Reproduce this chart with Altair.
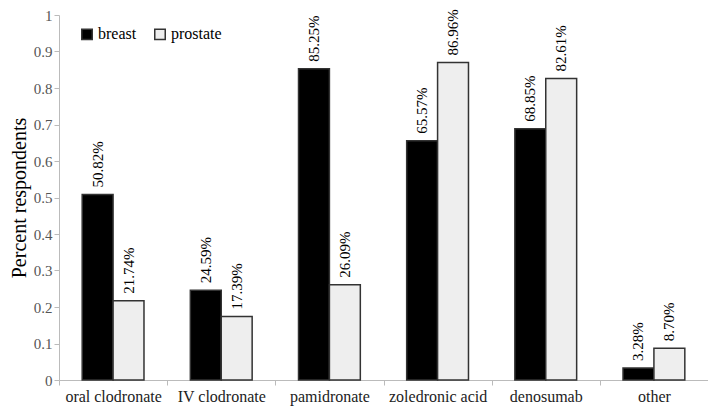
import altair as alt
import pandas as pd

categories = ["oral clodronate", "IV clodronate", "pamidronate", "zoledronic acid", "denosumab", "other"]
breast = [0.5082, 0.2459, 0.8525, 0.6557, 0.6885, 0.0328]
prostate = [0.2174, 0.1739, 0.2609, 0.8696, 0.8261, 0.0870]
series = ["breast", "prostate"]
ticks = [0, 0.1, 0.2, 0.3, 0.4, 0.5, 0.6, 0.7, 0.8, 0.9, 1]

rows = []
for i, c in enumerate(categories):
    rows.append({"drug": c, "group": "breast", "value": breast[i]})
    rows.append({"drug": c, "group": "prostate", "value": prostate[i]})
df = pd.DataFrame(rows)
df["label"] = df["value"].map(lambda v: f"{v*100:.2f}%")

FONT = "Liberation Serif"

x = alt.X("drug:N", sort=categories, title=None,
          scale=alt.Scale(paddingInner=0, paddingOuter=0),
          axis=alt.Axis(labelAngle=0, tickBand="extent", tickSize=5, tickColor="#bbbbbb",
                        domainColor="#bbbbbb", labelFont=FONT, labelFontSize=16,
                        labelColor="#222222", labelPadding=3, grid=False))
xo = alt.XOffset("group:N", sort=series, scale=alt.Scale(paddingOuter=0.75, paddingInner=0))
y = alt.Y("value:Q", title="Percent respondents",
          scale=alt.Scale(domain=[0, 1]),
          axis=alt.Axis(values=ticks, labelOverlap=False, format="~g", grid=False,
                        tickSize=5, tickColor="#bbbbbb", domainColor="#bbbbbb",
                        labelFont=FONT, labelFontSize=15, labelColor="#555555", labelPadding=2,
                        titleFont=FONT, titleFontSize=20, titleFontWeight="normal",
                        titleColor="#000000", titlePadding=4))

bars = alt.Chart(df).mark_bar(strokeWidth=1.5, stroke="#333333").encode(
    x=x, xOffset=xo, y=y,
    color=alt.Color("group:N", sort=series, title=None,
                    scale=alt.Scale(domain=series, range=["#000000", "#eeeeee"]),
                    legend=alt.Legend(orient="none", legendX=20, legendY=11, direction="horizontal",
                                      symbolType="square", symbolSize=110, symbolStrokeColor="#333333",
                                      symbolStrokeWidth=1.5, labelFont=FONT, labelFontSize=16,
                                      labelColor="#000000", columnPadding=14, labelOffset=3)),
)

labels = alt.Chart(df).mark_text(angle=270, align="left", baseline="middle", dx=7,
                                 font=FONT, fontSize=15, color="#000000").encode(
    x=x, xOffset=xo, y=y,
    text="label:N",
)

chart = alt.layer(bars, labels).properties(
    width=649, height=365,
    autosize=alt.AutoSizeParams(type="none"),
    padding={"left": 51, "top": 7, "right": 0, "bottom": 30},
).configure(font=FONT).configure_view(stroke=None)

chart.save("out.html", embed_options={"renderer": "svg", "actions": False})
